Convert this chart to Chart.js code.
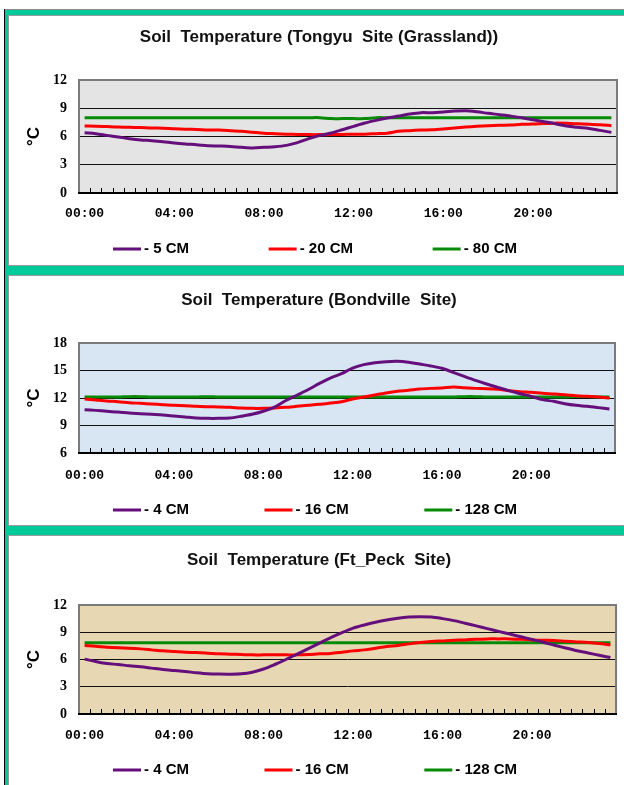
<!DOCTYPE html>
<html>
<head>
<meta charset="utf-8">
<script src="https://cdn.jsdelivr.net/npm/chart.js@4.4.1/dist/chart.umd.min.js"></script>
<style>
body { margin: 0; background: #fff; width: 624px; height: 785px; overflow: hidden; position: relative; }
#frame { position: absolute; left: 5px; top: 9px; width: 640px; height: 790px; background: #00c99a; border-top: 1px solid #8c8c8c; }
#edge { position: absolute; left: 4px; top: 9px; width: 1px; height: 776px; background: #000; }
.panel { position: absolute; left: 8px; width: 640px; height: 249px; background: #fff; border: 1px solid #9a9a9a; }
.panel canvas { position: absolute; left: 0; top: 0; }
</style>
</head>
<body>
<div id="frame"></div>
<div id="edge"></div>
<div class="panel" style="top:15px"><canvas id="c1" width="615" height="249"></canvas></div>
<div class="panel" style="top:275px"><canvas id="c2" width="615" height="249"></canvas></div>
<div class="panel" style="top:535px"><canvas id="c3" width="615" height="249"></canvas></div>
<script>
// half-hour categories
var times = ["00:00","00:30","01:00","01:30","02:00","02:30","03:00","03:30","04:00","04:30","05:00","05:30",
             "06:00","06:30","07:00","07:30","08:00","08:30","09:00","09:30","10:00","10:30","11:00","11:30",
             "12:00","12:30","13:00","13:30","14:00","14:30","15:00","15:30","16:00","16:30","17:00","17:30",
             "18:00","18:30","19:00","19:30","20:00","20:30","21:00","21:30","22:00","22:30","23:00","23:30"];

// Tongyu Site (Grassland)
var tongyu_5cm = [6.4,6.3,6.12,5.95,5.77,5.63,5.56,5.45,5.3,5.2,5.13,5.02,4.99,4.95,4.85,4.78,4.85,4.92,5.06,5.35,5.77,6.12,6.37,6.72,
                  7.08,7.43,7.71,7.96,8.17,8.38,8.53,8.53,8.6,8.7,8.74,8.63,8.46,8.32,8.17,8.0,7.78,7.57,7.36,7.11,6.97,6.86,6.65,6.44];
var tongyu_20cm = [7.12,7.1,7.05,7.0,6.98,6.95,6.9,6.88,6.82,6.78,6.75,6.7,6.68,6.62,6.55,6.45,6.35,6.3,6.25,6.22,6.2,6.2,6.2,6.22,
                   6.25,6.25,6.3,6.35,6.55,6.62,6.68,6.72,6.8,6.9,7.0,7.08,7.15,7.2,7.22,7.3,7.32,7.38,7.42,7.4,7.35,7.3,7.25,7.15];
var tongyu_80cm = [8.0,8.0,8.0,8.0,8.0,8.0,8.0,8.0,8.0,8.0,8.0,8.0,8.0,8.0,8.0,8.0,8.0,8.0,8.0,8.0,8.0,8.0,7.9,7.9,
                   7.9,7.9,8.0,8.0,8.0,8.0,8.0,8.0,8.0,8.0,8.0,8.0,8.0,8.0,8.0,8.0,8.0,8.0,8.0,8.0,8.0,8.0,8.0,8.0];

// Bondville Site
var bond_4cm = [10.73,10.65,10.55,10.47,10.36,10.29,10.22,10.15,10.04,9.93,9.82,9.78,9.78,9.82,10.0,10.22,10.55,11.0,11.7,12.3,12.9,13.56,14.18,14.65,
                15.27,15.64,15.85,15.96,16.0,15.9,15.7,15.5,15.24,14.8,14.36,13.93,13.53,13.16,12.8,12.47,12.18,11.82,11.64,11.38,11.2,11.09,10.95,10.8];
var bond_16cm = [11.89,11.78,11.67,11.6,11.49,11.42,11.35,11.27,11.2,11.16,11.09,11.05,11.02,10.98,10.91,10.87,10.87,10.91,10.98,11.09,11.2,11.31,11.45,11.6,
                 11.89,12.1,12.33,12.55,12.73,12.84,12.98,13.05,13.09,13.2,13.13,13.05,13.02,12.95,12.8,12.69,12.62,12.51,12.44,12.36,12.25,12.18,12.11,12.0];
var bond_128cm = [12.1,12.1,12.1,12.1,12.15,12.15,12.1,12.1,12.1,12.1,12.1,12.15,12.1,12.1,12.1,12.1,12.1,12.1,12.1,12.1,12.1,12.1,12.1,12.1,
                  12.1,12.1,12.1,12.1,12.1,12.1,12.1,12.1,12.1,12.1,12.15,12.15,12.1,12.1,12.1,12.1,12.1,12.1,12.1,12.1,12.15,12.15,12.1,12.1];

// Ft_Peck Site
var peck_4cm = [6.04,5.78,5.56,5.45,5.31,5.2,5.05,4.9,4.79,4.68,4.54,4.43,4.39,4.38,4.42,4.6,4.95,5.45,6.0,6.6,7.2,7.8,8.4,8.95,
                9.45,9.8,10.1,10.35,10.55,10.68,10.72,10.68,10.5,10.28,10.0,9.7,9.4,9.1,8.8,8.5,8.2,7.9,7.57,7.26,6.97,6.72,6.46,6.22];
var peck_16cm = [7.54,7.46,7.35,7.28,7.24,7.17,7.06,6.95,6.88,6.8,6.77,6.7,6.62,6.59,6.55,6.51,6.51,6.51,6.51,6.51,6.55,6.62,6.66,6.8,
                 6.95,7.06,7.24,7.43,7.54,7.72,7.87,7.98,8.05,8.12,8.16,8.23,8.27,8.27,8.27,8.23,8.16,8.12,8.09,8.01,7.94,7.87,7.76,7.61];
var peck_128cm = [7.85,7.85,7.85,7.85,7.85,7.85,7.85,7.85,7.85,7.85,7.85,7.85,7.85,7.85,7.85,7.85,7.85,7.85,7.85,7.85,7.85,7.85,7.85,7.85,
                  7.85,7.85,7.85,7.85,7.85,7.85,7.85,7.85,7.85,7.85,7.85,7.85,7.85,7.85,7.85,7.85,7.85,7.85,7.85,7.85,7.85,7.85,7.85,7.85];

var tongyu_labels = ["- 5 CM", "- 20 CM", "- 80 CM"];
var deep_labels = ["- 4 CM", "- 16 CM", "- 128 CM"];

const PURPLE = "#650f7c";
const RED = "#ff0000";
const GREEN = "#078a07";

// plot background, frame, inner tick marks and the line legend
const decor = {
	id: "decor",
	beforeDraw: function (chart, args, opts) {
		const a = chart.chartArea;
		const ctx = chart.ctx;
		ctx.save();
		ctx.fillStyle = opts.bg;
		ctx.fillRect(a.left, a.top, a.right - a.left, a.bottom - a.top);
		ctx.restore();
	},
	beforeDatasetsDraw: function (chart) {
		const a = chart.chartArea;
		const ctx = chart.ctx;
		const x = chart.scales.x;
		ctx.save();
		ctx.strokeStyle = "#7a7a7a";
		ctx.lineWidth = 2;
		ctx.beginPath();
		ctx.moveTo(a.left, a.bottom);
		ctx.lineTo(a.left, a.top);
		ctx.lineTo(a.right, a.top);
		ctx.lineTo(a.right, a.bottom);
		ctx.stroke();
		ctx.strokeStyle = "#000";
		ctx.beginPath();
		ctx.moveTo(a.left - 1, a.bottom);
		ctx.lineTo(a.right + 1, a.bottom);
		ctx.stroke();
		ctx.lineWidth = 1;
		ctx.beginPath();
		for (let i = 0; i < times.length - 1; i++) {
			const px = Math.round((x.getPixelForValue(i) + x.getPixelForValue(i + 1)) / 2) + 0.5;
			ctx.moveTo(px, a.bottom);
			ctx.lineTo(px, a.bottom - 5);
		}
		ctx.stroke();
		ctx.restore();
	},
	afterDraw: function (chart, args, opts) {
		const ctx = chart.ctx;
		ctx.save();
		ctx.font = "bold 15px 'Liberation Sans', Arial, sans-serif";
		ctx.textBaseline = "middle";
		const sets = chart.data.datasets;
		let used = 0;
		sets.forEach(function (d) { used += 28 + 3 + ctx.measureText(d.label).width; });
		const gap = (opts.legendRight - opts.legendLeft - used) / (sets.length - 1);
		let lx = opts.legendLeft;
		sets.forEach(function (d) {
			ctx.fillStyle = d.borderColor;
			ctx.fillRect(lx, opts.legendY - 1.5, 28, 3);
			ctx.fillStyle = "#000";
			ctx.fillText(d.label, lx + 31, opts.legendY);
			lx += 31 + ctx.measureText(d.label).width + gap;
		});
		ctx.restore();
	},
};

function makeChart(id, title, labels, s1, s2, s3, yMin, yMax, bg, pad) {
	const data = {
		labels: times,
		datasets: [
			{ label: labels[0], data: s1, borderColor: PURPLE, backgroundColor: PURPLE },
			{ label: labels[1], data: s2, borderColor: RED, backgroundColor: RED },
			{ label: labels[2], data: s3, borderColor: GREEN, backgroundColor: GREEN },
		],
	};

	const config = {
		type: "line",
		data: data,
		plugins: [decor],
		options: {
			responsive: false,
			animation: false,
			devicePixelRatio: 1,
			elements: {
				line: { borderWidth: 3, tension: 0.3 },
				point: { radius: 0 },
			},
			layout: { padding: { left: 12, right: 7, top: 0, bottom: 249 - pad.plotBottom - 40 } },
			plugins: {
				legend: { display: false },
				tooltip: { enabled: false },
				title: {
					display: true,
					text: title,
					color: "#111",
					font: { family: "'Liberation Sans', Arial, sans-serif", size: 17, weight: "bold" },
					padding: { top: pad.titleTop, bottom: pad.titleBottom },
				},
				decor: { bg: bg, legendLeft: 104, legendRight: 508, legendY: pad.legendY },
			},
			scales: {
				x: {
					type: "category",
					offset: true,
					grid: { display: false, drawTicks: false },
					border: { display: false },
					afterFit: function (scale) { scale.height = 40; },
					ticks: {
						autoSkip: false,
						maxRotation: 0,
						padding: pad.xLabel,
						color: "#000",
						font: { family: "'Liberation Mono', monospace", size: 13, weight: "bold" },
						callback: function (val, idx) { return idx % 8 === 0 ? times[idx] : ""; },
					},
				},
				y: {
					min: yMin,
					max: yMax,
					afterFit: function (scale) { scale.width = 58; },
					border: { display: false },
					grid: {
						drawTicks: false,
						color: function (c) {
							return c.tick.value === yMin || c.tick.value === yMax ? "rgba(0,0,0,0)" : "#111";
						},
					},
					ticks: {
						stepSize: 3,
						padding: 12,
						color: "#000",
						font: { family: "'Liberation Serif', 'Times New Roman', serif", size: 14, weight: "bold" },
					},
					title: {
						display: true,
						text: "°C",
						color: "#000",
						padding: { top: 3, bottom: 4 },
						font: { family: "'Liberation Sans', Arial, sans-serif", size: 17, weight: "bold" },
					},
				},
			},
		},
	};
	return new Chart(document.getElementById(id), config);
}

makeChart("c1", "Soil  Temperature (Tongyu  Site (Grassland))", tongyu_labels,
	tongyu_5cm, tongyu_20cm, tongyu_80cm, 0, 12, "#e4e4e4",
	{ titleTop: 10.8, titleBottom: 32.8, plotBottom: 177, xLabel: 12.5, legendY: 233 });
makeChart("c2", "Soil  Temperature (Bondville  Site)", deep_labels,
	bond_4cm, bond_16cm, bond_128cm, 6, 18, "#d8e5f3",
	{ titleTop: 13.8, titleBottom: 32.8, plotBottom: 177, xLabel: 14.5, legendY: 234 });
makeChart("c3", "Soil  Temperature (Ft_Peck  Site)", deep_labels,
	peck_4cm, peck_16cm, peck_128cm, 0, 12, "#e8d7b3",
	{ titleTop: 13.8, titleBottom: 34.8, plotBottom: 178, xLabel: 13.5, legendY: 234 });
</script>
</body>
</html>
